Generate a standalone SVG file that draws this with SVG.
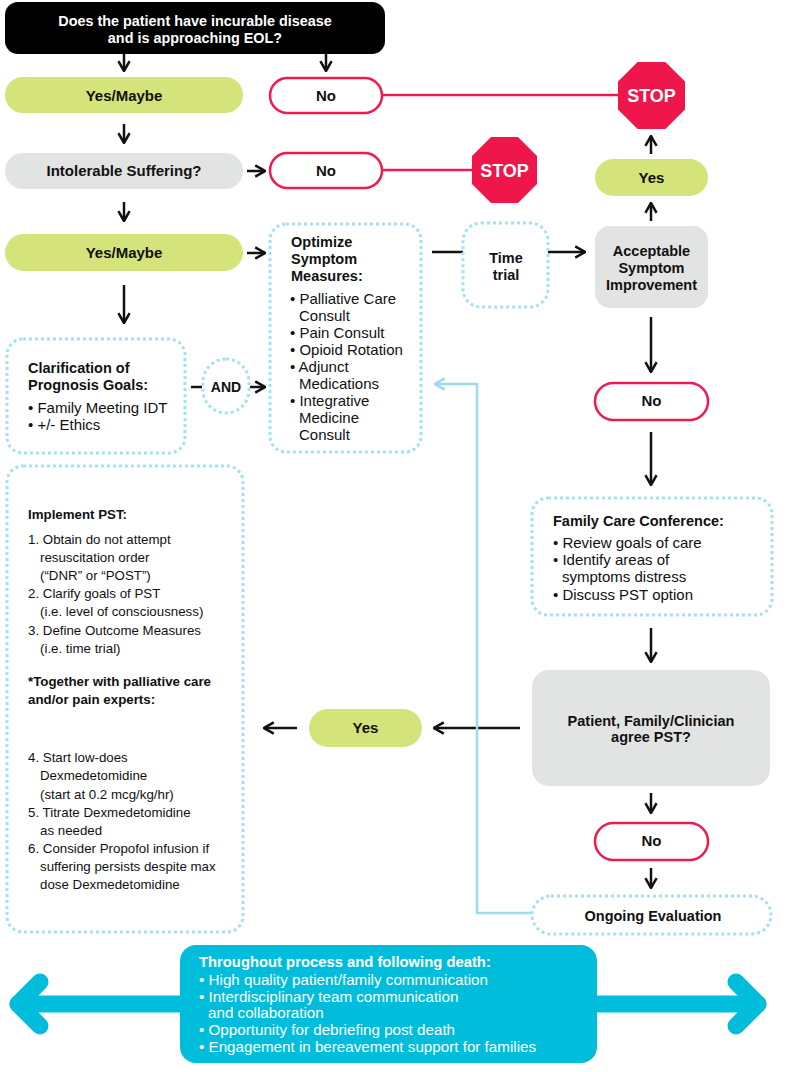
<svg xmlns="http://www.w3.org/2000/svg" width="789" height="1072" viewBox="0 0 789 1072">
<style>
text{font-family:"Liberation Sans",Arial,sans-serif;fill:#111}
.b{font-weight:bold}
.c{text-anchor:middle}
.w{fill:#fff}
.pill{font-weight:bold;font-size:15px;text-anchor:middle}
.hd{font-weight:bold;font-size:14.5px}
.bd{font-size:15px}
.sm{font-size:13.3px}
.green{fill:#d4e37a}
.gray{fill:#e2e3e3}
.red{fill:#fff;stroke:#ee1b4f;stroke-width:2.5}
.dot{fill:#fff;stroke:#a5e1ef;stroke-width:3;stroke-dasharray:3 3}
.stop{fill:#ee164b}
.ar{stroke:#111;stroke-width:2.5;fill:none;marker-end:url(#ah)}
.ln{stroke:#111;stroke-width:2.5;fill:none}
.rl{stroke:#ee1b4f;stroke-width:2.5;fill:none}
.bl{stroke:#9adced;stroke-width:2.5;fill:none;marker-end:url(#bh)}
.cy{stroke:#00bedb;stroke-width:17;fill:none;stroke-linecap:round;stroke-linejoin:round}
</style>
<defs>
<marker id="ah" viewBox="0 0 10 10" refX="9" refY="5" markerWidth="5.6" markerHeight="5.6" orient="auto" markerUnits="strokeWidth">
<path d="M2,1 L9,5 L2,9" fill="none" stroke="#111" stroke-width="1.8" stroke-linejoin="miter"/>
</marker>
<marker id="bh" viewBox="0 0 10 10" refX="9" refY="5" markerWidth="5.6" markerHeight="5.6" orient="auto" markerUnits="strokeWidth">
<path d="M2,1 L9,5 L2,9" fill="none" stroke="#9adced" stroke-width="1.8"/>
</marker>
</defs>

<g id="connectors">
<line class="ar" x1="124" y1="54" x2="124" y2="71"/>
<line class="ar" x1="326" y1="54" x2="326" y2="71"/>
<line class="ar" x1="124" y1="124" x2="124" y2="143"/>
<line class="ar" x1="247" y1="171" x2="265" y2="171"/>
<line class="ar" x1="124" y1="202" x2="124" y2="221"/>
<line class="ar" x1="247" y1="253" x2="265" y2="253"/>
<line class="ar" x1="124" y1="285" x2="124" y2="323"/>
<line class="ln" x1="191" y1="387" x2="202" y2="387"/>
<line class="ar" x1="250" y1="387" x2="265" y2="387"/>
<line class="ln" x1="432" y1="252" x2="463" y2="252"/>
<line class="ar" x1="548" y1="252" x2="585" y2="252"/>
<line class="ar" x1="651" y1="221" x2="651" y2="203"/>
<line class="ar" x1="651" y1="154" x2="651" y2="136"/>
<line class="ar" x1="651" y1="317" x2="651" y2="372"/>
<line class="ar" x1="651" y1="432" x2="651" y2="485"/>
<line class="ar" x1="651" y1="628" x2="651" y2="662"/>
<line class="ar" x1="520" y1="728" x2="434" y2="728"/>
<line class="ar" x1="297" y1="728" x2="264" y2="728"/>
<line class="ar" x1="651" y1="793" x2="651" y2="813"/>
<line class="ar" x1="651" y1="868" x2="651" y2="888"/>
<line class="rl" x1="382" y1="95" x2="620" y2="95"/>
<line class="rl" x1="382" y1="170" x2="474" y2="170"/>
<polyline class="bl" points="532,913 477,913 477,384 435,384"/>
<line class="cy" x1="18" y1="1004" x2="758" y2="1004"/>
<polyline class="cy" points="40,982 18,1004 40,1026"/>
<polyline class="cy" points="736,982 758,1004 736,1026"/>
</g>

<g id="n-eol">
<rect x="5" y="2" width="380" height="52" rx="13" fill="#000"/>
<text class="b c w" x="195" y="26" font-size="14.4">Does the patient have incurable disease</text>
<text class="b c w" x="195" y="43" font-size="14.4">and is approaching EOL?</text>
</g>

<g id="n-yes1">
<rect class="green" x="5" y="77" width="238" height="36" rx="18"/>
<text class="pill" x="124" y="101">Yes/Maybe</text>
</g>

<g id="n-no1">
<rect class="red" x="270" y="78" width="112" height="35" rx="17.5"/>
<text class="pill" x="326" y="101">No</text>
</g>

<g id="n-stop1">
<polygon class="stop" points="637.6,62 665.4,62 685,81.6 685,109.4 665.4,129 637.6,129 618,109.4 618,81.6"/>
<text class="b c w" x="651.5" y="102" font-size="18">STOP</text>
</g>

<g id="n-suffering">
<rect class="gray" x="5" y="153" width="238" height="36" rx="18"/>
<text class="pill" x="124" y="176">Intolerable Suffering?</text>
</g>

<g id="n-no2">
<rect class="red" x="270" y="153" width="112" height="35" rx="17.5"/>
<text class="pill" x="326" y="176">No</text>
</g>

<g id="n-stop2">
<polygon class="stop" points="491,137 518,137 537,156 537,184 518,203 491,203 472,184 472,156"/>
<text class="b c w" x="504.5" y="177" font-size="18">STOP</text>
</g>

<g id="n-yes2">
<rect class="green" x="5" y="234" width="238" height="37" rx="18.5"/>
<text class="pill" x="124" y="258">Yes/Maybe</text>
</g>

<g id="n-clarify">
<rect class="dot" x="7" y="339" width="178" height="114" rx="16"/>
<text class="hd" x="28" y="373">Clarification of</text>
<text class="hd" x="28" y="390">Prognosis Goals:</text>
<text class="bd" x="28" y="413">• Family Meeting IDT</text>
<text class="bd" x="28" y="430">• +/- Ethics</text>
</g>

<g id="n-and">
<rect class="dot" x="203" y="359" width="46" height="54" rx="23"/>
<text class="b c" x="226" y="392" font-size="14">AND</text>
</g>

<g id="n-optimize">
<rect class="dot" x="270" y="224" width="151" height="228" rx="16"/>
<text class="hd" x="291" y="247">Optimize</text>
<text class="hd" x="291" y="264">Symptom</text>
<text class="hd" x="291" y="281">Measures:</text>
<text class="bd" x="290" y="304">• Palliative Care</text>
<text class="bd" x="299" y="321">Consult</text>
<text class="bd" x="290" y="338">• Pain Consult</text>
<text class="bd" x="290" y="355">• Opioid Rotation</text>
<text class="bd" x="290" y="372">• Adjunct</text>
<text class="bd" x="299" y="389">Medications</text>
<text class="bd" x="290" y="406">• Integrative</text>
<text class="bd" x="299" y="423">Medicine</text>
<text class="bd" x="299" y="440">Consult</text>
</g>

<g id="n-timetrial">
<rect class="dot" x="463" y="223" width="85" height="84" rx="18"/>
<text class="b c" x="506" y="263" font-size="14.5">Time</text>
<text class="b c" x="506" y="280" font-size="14.5">trial</text>
</g>

<g id="n-acceptable">
<rect class="gray" x="595" y="226" width="113" height="82" rx="15"/>
<text class="b c" x="651.5" y="256" font-size="14.5">Acceptable</text>
<text class="b c" x="651.5" y="273" font-size="14.5">Symptom</text>
<text class="b c" x="651.5" y="290" font-size="14.5">Improvement</text>
</g>

<g id="n-yes3">
<rect class="green" x="595" y="159" width="113" height="37" rx="18.5"/>
<text class="pill" x="651.5" y="183">Yes</text>
</g>

<g id="n-no3">
<rect class="red" x="595" y="383" width="113" height="37" rx="18.5"/>
<text class="pill" x="651.5" y="406">No</text>
</g>

<g id="n-family">
<rect class="dot" x="532" y="498" width="240" height="117" rx="16"/>
<text class="hd" x="553" y="526">Family Care Conference:</text>
<text class="bd" x="553" y="548">• Review goals of care</text>
<text class="bd" x="553" y="565">• Identify areas of</text>
<text class="bd" x="562" y="582">symptoms distress</text>
<text class="bd" x="553" y="600">• Discuss PST option</text>
</g>

<g id="n-agree">
<rect class="gray" x="532" y="670" width="238" height="116" rx="17"/>
<text class="b c" x="651" y="726" font-size="14.5">Patient, Family/Clinician</text>
<text class="b c" x="651" y="742" font-size="14.5">agree PST?</text>
</g>

<g id="n-yes4">
<rect class="green" x="309" y="709" width="113" height="38" rx="19"/>
<text class="pill" x="365.5" y="733">Yes</text>
</g>

<g id="n-no4">
<rect class="red" x="595" y="823" width="113" height="37" rx="18.5"/>
<text class="pill" x="651.5" y="846">No</text>
</g>

<g id="n-ongoing">
<rect class="dot" x="532" y="896" width="239" height="38" rx="19"/>
<text class="b c" x="653" y="921" font-size="14.5">Ongoing Evaluation</text>
</g>

<g id="n-pst">
<rect class="dot" x="7" y="466" width="236" height="466" rx="16"/>
<text class="b sm" x="28" y="519">Implement PST:</text>
<text class="sm" x="28" y="544">1. Obtain do not attempt</text>
<text class="sm" x="40" y="562">resuscitation order</text>
<text class="sm" x="40" y="580">(“DNR” or “POST”)</text>
<text class="sm" x="28" y="598">2. Clarify goals of PST</text>
<text class="sm" x="40" y="616">(i.e. level of consciousness)</text>
<text class="sm" x="28" y="635">3. Define Outcome Measures</text>
<text class="sm" x="40" y="653">(i.e. time trial)</text>
<text class="b sm" x="28" y="686">*Together with palliative care</text>
<text class="b sm" x="28" y="704">and/or pain experts:</text>
<text class="sm" x="28" y="762">4. Start low-does</text>
<text class="sm" x="40" y="780">Dexmedetomidine</text>
<text class="sm" x="40" y="799">(start at 0.2 mcg/kg/hr)</text>
<text class="sm" x="28" y="817">5. Titrate Dexmedetomidine</text>
<text class="sm" x="40" y="835">as needed</text>
<text class="sm" x="28" y="853">6. Consider Propofol infusion if</text>
<text class="sm" x="40" y="871">suffering persists despite max</text>
<text class="sm" x="40" y="889">dose Dexmedetomidine</text>
</g>

<g id="n-throughout">
<rect x="180" y="945" width="417" height="118" rx="16" fill="#00bedb"/>
<text class="b w" x="199" y="967" font-size="14.8">Throughout process and following death:</text>
<text class="w" x="199" y="985" font-size="15.2">• High quality patient/family communication</text>
<text class="w" x="199" y="1002" font-size="15.2">• Interdisciplinary team communication</text>
<text class="w" x="208" y="1018" font-size="15.2">and collaboration</text>
<text class="w" x="199" y="1035" font-size="15.2">• Opportunity for debriefing post death</text>
<text class="w" x="199" y="1052" font-size="15.2">• Engagement in bereavement support for families</text>
</g>
</svg>
